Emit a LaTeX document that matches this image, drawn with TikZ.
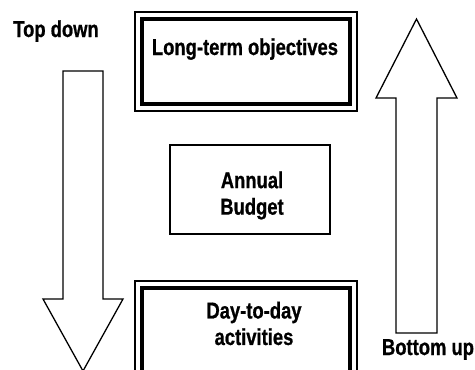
\documentclass[tikz,border=0pt]{standalone}
\usepackage{fontspec}
\setmainfont[FakeStretch=0.8, BoldFeatures={FakeBold=0.8}]{Liberation Sans}

\tikzset{
  plan/.style={draw, line width=4pt, inner sep=0pt, minimum width=208pt},
  frame/.style={draw, line width=1.2pt},
  budget/.style={draw, line width=1.3pt, minimum width=160pt, minimum height=89pt},
  blockarrow/.style={draw, line width=1.3pt, line join=miter},
  lbl/.style={font=\fontsize{23}{26.5}\selectfont\bfseries, inner sep=0pt, align=center}
}

\begin{document}
\begin{tikzpicture}[x=1pt,y=-1pt]
    \useasboundingbox (0,0) rectangle (475,370);

    % the three levels
    \node[plan, minimum height=85pt] (lto) at (246,61.5) {};
    \draw[frame] ([shift={(-5pt,5pt)}]lto.north west) rectangle ([shift={(5pt,-5pt)}]lto.south east);
    \node[plan, minimum height=92pt] (dtd) at (246,334) {};
    \draw[frame] ([shift={(-5pt,5pt)}]dtd.north west) rectangle ([shift={(5pt,-5pt)}]dtd.south east);
    \node[budget] (ab) at (250,189.5) {};

    \node[lbl, anchor=base] (ltotxt) at (245,55)  {Long-term objectives};
    \node[lbl] (abtxt)  at (252,195.5) {Annual\\Budget};
    \node[lbl] (dtdtxt) at (254,323.5) {Day-to-day\\activities};

    % the two directions
    \draw[blockarrow] (63,71) -- (103,71) -- (103,299) -- (123,299) -- (83,371)
      -- (43,299) -- (63,299) -- cycle;
    \draw[blockarrow] (396,333) -- (437,333) -- (437,98) -- (457,98) -- (416.5,19)
      -- (376,98) -- (396,98) -- cycle;

    \node[lbl, anchor=base] (td) at (56,37)   {Top down};
    \node[lbl, anchor=base] (bu) at (428,355) {Bottom up};
\end{tikzpicture}
\end{document}
